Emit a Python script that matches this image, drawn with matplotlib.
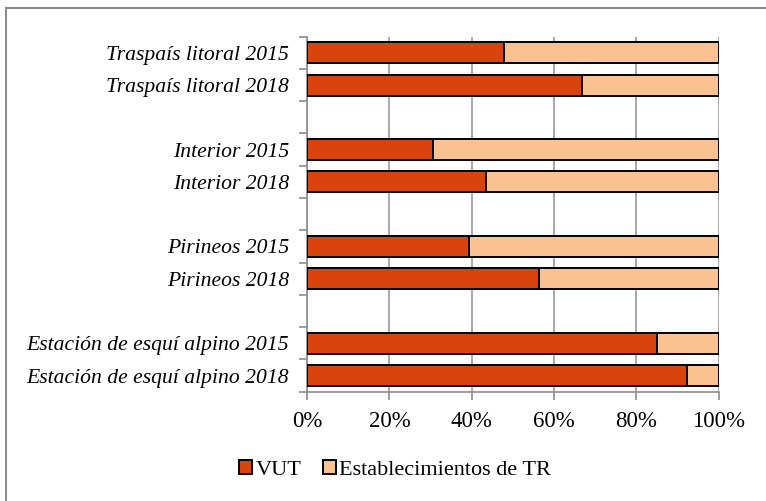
import matplotlib.pyplot as plt
from matplotlib.patches import Patch
from matplotlib.lines import Line2D
import numpy as np

# Share of tourist accommodation supply by zone (%), blank entries are spacers
categories = ['Traspaís litoral 2015', 'Traspaís litoral 2018', '',
              'Interior 2015', 'Interior 2018', '',
              'Pirineos 2015', 'Pirineos 2018', '',
              'Estación de esquí alpino 2015', 'Estación de esquí alpino 2018']
vut = [47.9, 66.7, None, 30.5, 43.5, None, 39.3, 56.3, None, 85.1, 92.4]
series_names = ['VUT', 'Establecimientos de TR']
colors = ['#D8440B', '#FAC191']

plt.rcParams['font.family'] = 'Liberation Serif'

fig = plt.figure(figsize=(7.66, 5.01), dpi=100)
ax = fig.add_axes([0.401, 0.218, 0.537, 0.709])

pos = np.arange(len(categories))
for i, v in enumerate(vut):
    if v is None:
        continue
    ax.barh(pos[i], v, height=0.65, color=colors[0], edgecolor='black', linewidth=1.4, zorder=3)
    ax.barh(pos[i], 100 - v, left=v, height=0.65, color=colors[1], edgecolor='black', linewidth=1.4, zorder=3)

ax.set_xlim(0, 100)
ax.set_ylim(len(categories) - 0.5, -0.5)
ax.set_xticks(np.arange(0, 101, 20))
ax.set_xticklabels([f'{t}%' for t in range(0, 101, 20)], fontsize=16.5)
ax.xaxis.grid(True, color='#9a9a9a', linewidth=1.2, zorder=0)

# category labels between boundary ticks
ax.set_yticks(pos)
ax.set_yticklabels(categories, fontsize=15.6, style='italic')
ax.tick_params(axis='y', length=0, pad=13)
ax.set_yticks(np.arange(-0.5, len(categories)), minor=True)
ax.tick_params(axis='y', which='minor', length=6, color='#8c8c8c', width=1.2)
ax.tick_params(axis='x', length=6, color='#8c8c8c', width=1.2, pad=8)

for side in ['top', 'right']:
    ax.spines[side].set_visible(False)
for side in ['left', 'bottom']:
    ax.spines[side].set_color('#8c8c8c')
    ax.spines[side].set_linewidth(1.2)

handles = [Patch(facecolor=c, edgecolor='black', linewidth=1.4) for c in colors]
fig.legend(handles, series_names, loc='center', bbox_to_anchor=(0.516, 0.062), ncol=2,
           frameon=False, fontsize=16, handlelength=0.6, handleheight=0.6,
           handletextpad=0.15, columnspacing=0.95)

# chart frame (left and top edges)
fx, fy = 5.5 / 766, 1 - 8 / 501
fig.add_artist(Line2D([fx, fx], [0, fy], transform=fig.transFigure, color='#8c8c8c', linewidth=1.5))
fig.add_artist(Line2D([fx, 1.01], [fy, fy], transform=fig.transFigure, color='#8c8c8c', linewidth=1.5))

fig.savefig('out.png', dpi=100)
